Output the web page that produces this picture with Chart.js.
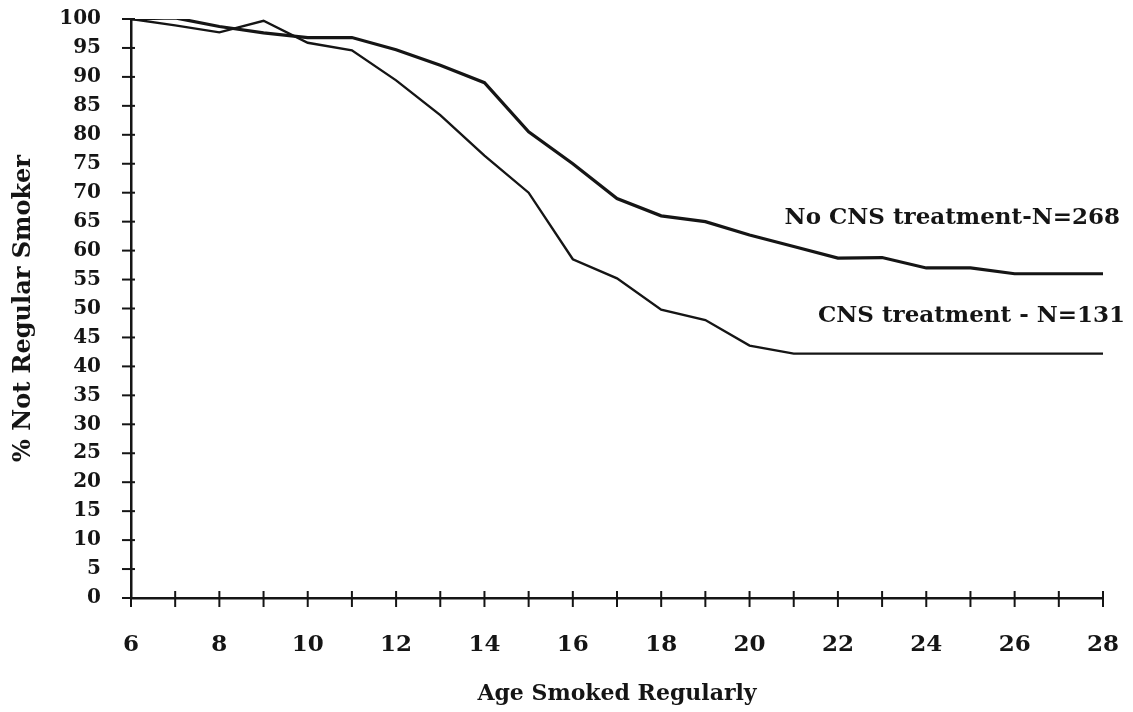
<!DOCTYPE html>
<html><head><meta charset="utf-8">
<script src="https://cdn.jsdelivr.net/npm/chart.js@4/dist/chart.umd.min.js"></script>
<style>html,body{margin:0;padding:0;background:#fff}#wrap{width:1133px;height:712px}</style>
</head><body><div id="wrap"><canvas id="c" width="1133" height="712"></canvas></div>
<script>
const ages = [6,7,8,9,10,11,12,13,14,15,16,17,18,19,20,21,22,23,24,25,26,27,28];
const noCnsValues = [100,100.2,98.7,97.6,96.8,96.8,94.7,92,89,80.5,75,69,66,65,62.7,60.7,58.7,58.8,57,57,56,56,56];
const cnsValues = [100,98.9,97.7,99.7,95.9,94.6,89.4,83.4,76.4,70,58.5,55.2,49.8,48,43.6,42.2,42.2,42.2,42.2,42.2,42.2,42.2,42.2];
const seriesNames = ['No CNS treatment-N=268','CNS treatment - N=131'];
const yTickValues = [0,5,10,15,20,25,30,35,40,45,50,55,60,65,70,75,80,85,90,95,100];
const xLabelValues = [6,8,10,12,14,16,18,20,22,24,26,28];

const INK = '#151515';
const tickFont = {family:'"DejaVu Serif"', weight:'bold', size:20};
const xTickFont = {family:'"DejaVu Serif"', weight:'bold', size:23};
const xTitleFont = {family:'"DejaVu Serif"', weight:'bold', size:22};
const yTitleFont = {family:'"DejaVu Serif"', weight:'bold', size:24};

const crossTicks = {
  id:'crossTicks',
  afterDatasetsDraw(chart){
    const ctx = chart.ctx, xs = chart.scales.x, ys = chart.scales.y, a = chart.chartArea;
    ctx.save(); ctx.strokeStyle = INK; ctx.lineWidth = 2;
    xs.ticks.forEach(t=>{const p = xs.getPixelForValue(t.value); ctx.beginPath(); ctx.moveTo(p,a.bottom-7); ctx.lineTo(p,a.bottom+9); ctx.stroke();});
    ys.ticks.forEach(t=>{const p = ys.getPixelForValue(t.value); ctx.beginPath(); ctx.moveTo(a.left-9,p); ctx.lineTo(a.left+4,p); ctx.stroke();});
    // series labels
    ctx.fillStyle = INK; ctx.font = 'bold 23px "DejaVu Serif"'; ctx.textAlign='right'; ctx.textBaseline='middle';
    ctx.fillText(seriesNames[0], a.right+17, ys.getPixelForValue(65.6));
    ctx.fillText(seriesNames[1], a.right+22, ys.getPixelForValue(48.7));
    ctx.restore();
  }
};

new Chart(document.getElementById('c'), {
  type:'line',
  data:{ datasets:[
    {label:seriesNames[0], data:ages.map((a,i)=>({x:a,y:noCnsValues[i]})), borderColor:INK, borderWidth:3.2, pointRadius:0, tension:0, fill:false},
    {label:seriesNames[1], data:ages.map((a,i)=>({x:a,y:cnsValues[i]})), borderColor:INK, borderWidth:2.4, pointRadius:0, tension:0, fill:false}
  ]},
  options:{
    responsive:false, animation:false, devicePixelRatio:1,
    layout:{padding:{left:0,top:19,right:30,bottom:0}},
    plugins:{legend:{display:false}, tooltip:{enabled:false}},
    scales:{
      x:{type:'linear', min:6, max:28,
        afterBuildTicks(s){ s.ticks = ages.map(v=>({value:v})); },
        afterFit(s){ s.height = 114; s.paddingLeft = 0; s.paddingRight = 0; },
        ticks:{ autoSkip:false, maxRotation:0, color:INK, font:xTickFont, padding:33,
          callback:(v)=> xLabelValues.includes(v) ? String(v) : '' },
        grid:{display:true, drawOnChartArea:false, drawTicks:false, color:'rgba(0,0,0,0)'},
        border:{display:true, color:INK, width:2.5},
        title:{display:true, text:'Age Smoked Regularly', color:INK, font:xTitleFont, padding:{top:0,bottom:5}}
      },
      y:{type:'linear', min:0, max:100,
        afterBuildTicks(s){ s.ticks = yTickValues.map(v=>({value:v})); },
        afterFit(s){ s.width = 131; s.paddingTop = 0; s.paddingBottom = 0; },
        ticks:{ autoSkip:false, color:INK, font:tickFont, padding:30 },
        grid:{display:true, drawOnChartArea:false, drawTicks:false, color:'rgba(0,0,0,0)'},
        border:{display:true, color:INK, width:2.5},
        title:{display:true, text:'% Not Regular Smoker', color:INK, font:yTitleFont, padding:{top:9,bottom:0}}
      }
    }
  },
  plugins:[crossTicks]
});
</script></body></html>
